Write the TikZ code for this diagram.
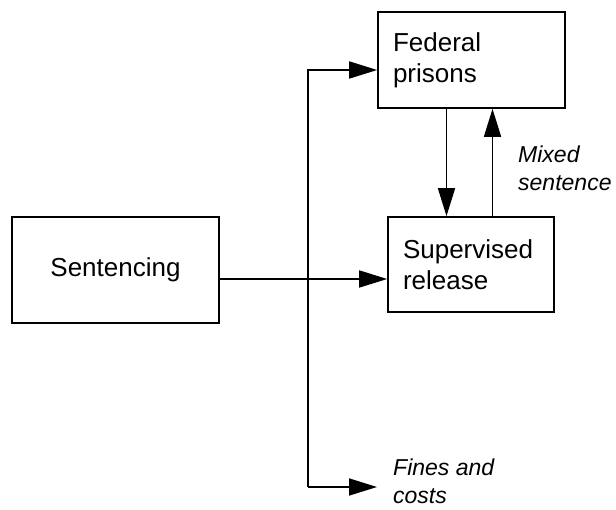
\documentclass[tikz,border=0pt]{standalone}
\usepackage{fontspec}
\setmainfont{Liberation Sans}
\usetikzlibrary{arrows.meta,positioning}
\begin{document}
\begin{tikzpicture}[x=1pt,y=-1pt,
    box/.style={draw,line width=1.7pt,inner xsep=15pt,font=\fontsize{26}{31}\selectfont},
    note/.style={anchor=north west,inner sep=0pt,align=left,font=\fontsize{23}{28}\selectfont\itshape},
    flow/.style={line width=1.7pt,-{Triangle[length=28pt,width=17pt]}}]
\useasboundingbox (0,0) rectangle (616,510);
\node[box,minimum width=207pt,minimum height=106pt] (sent) at (115.5,270) {Sentencing};
\node[box,minimum width=187pt,minimum height=96pt,text width=157pt,align=left] (fed) at (471.5,60) {Federal\\prisons};
\node[box,minimum width=166pt,minimum height=95pt,text width=136pt,align=left] (sup) at (471,264.5) {Supervised\\release};
\node[note] (mixed) at (518,146) {Mixed\\sentence};
\node[note] (fines) at (393,459) {Fines and\\costs};
\coordinate (fedin) at ([yshift=-10pt]fed.west);
\coordinate (bus) at (308,487);
\draw[flow] ([yshift=-9pt]sent.east) -- ([yshift=-14.5pt]sup.west);
\draw[flow] (bus) |- (fedin);
\draw[flow] (bus) -- ([xshift=-16pt]bus -| fines.west);
\draw[flow] ([xshift=-25pt]fed.south) -- ([xshift=-25pt]fed.south |- sup.north);
\draw[flow] ([xshift=21pt]fed.south |- sup.north) -- ([xshift=21pt]fed.south);
\end{tikzpicture}
\end{document}
